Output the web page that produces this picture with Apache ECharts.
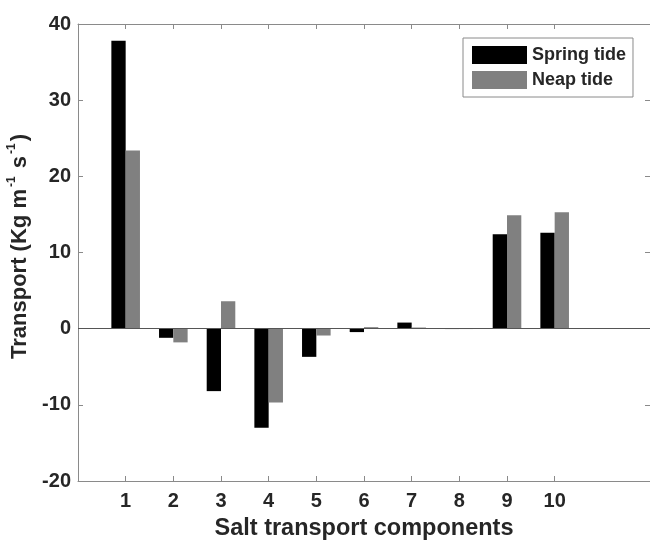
<!DOCTYPE html>
<html>
<head>
<meta charset="utf-8">
<script src="https://cdn.jsdelivr.net/npm/echarts@6/dist/echarts.min.js"></script>
<style>
  html, body { margin: 0; padding: 0; background: #fff; }
  #chart { width: 650px; height: 540px; }
</style>
</head>
<body>
<div id="chart"></div>
<script>
// ---- data ----
const components = [1, 2, 3, 4, 5, 6, 7, 8, 9, 10];
const springTide = [37.8, -1.2, -8.2, -13.0, -3.7, -0.45, 0.8, -0.05, 12.4, 12.6];
const neapTide = [23.4, -1.8, 3.6, -9.7, -0.9, 0.2, 0.15, -0.05, 14.9, 15.3];
const yTicks = [-20, -10, 0, 10, 20, 30, 40];
const seriesNames = ['Spring tide', 'Neap tide'];

const FONT = '"Liberation Sans", Arial, sans-serif';
const TXT = '#262626';
const AX = '#8a8a8a';

const chart = echarts.init(document.getElementById('chart'), null, { renderer: 'canvas' });

const option = {
  backgroundColor: '#fff',
  animation: false,
  textStyle: { fontFamily: FONT },
  grid: { left: 78, right: 0, top: 24, bottom: 59, show: false, containLabel: false, outerBoundsMode: 'none' },
  legend: {
    orient: 'vertical',
    left: 463,
    top: 38,
    data: seriesNames,
    icon: 'rect',
    itemWidth: 55,
    itemHeight: 18,
    itemGap: 7,
    padding: [8, 7, 8, 9],
    borderColor: AX,
    borderWidth: 1,
    backgroundColor: '#fff',
    textStyle: { fontFamily: FONT, fontSize: 18, fontWeight: 'bold', color: TXT }
  },
  xAxis: [
    {
      type: 'value',
      min: 0,
      max: 12,
      interval: 1,
      position: 'bottom',
      name: 'Salt transport components',
      nameLocation: 'middle',
      nameGap: 36,
      nameTextStyle: { fontFamily: FONT, fontSize: 23.5, fontWeight: 'bold', color: TXT },
      axisLine: { onZero: false, lineStyle: { color: AX, width: 1 } },
      axisTick: { inside: true, length: 5, lineStyle: { color: AX }, customValues: components },
      axisLabel: { customValues: components, margin: 10, fontFamily: FONT, fontSize: 20, fontWeight: 'bold', color: TXT },
      splitLine: { show: false }
    },
    {
      type: 'value',
      min: 0,
      max: 12,
      interval: 1,
      position: 'top',
      axisLine: { show: true, onZero: false, lineStyle: { color: AX, width: 1 } },
      axisTick: { inside: true, length: 5, lineStyle: { color: AX }, customValues: components },
      axisLabel: { show: false },
      splitLine: { show: false }
    }
  ],
  yAxis: [
    {
      type: 'value',
      min: -20,
      max: 40,
      interval: 10,
      position: 'left',
      name: '{m|Transport (Kg m}{s|-1}{m| s}{s|-1}{m|)}',
      nameLocation: 'middle',
      nameGap: 34,
      nameRotate: 90,
      nameTextStyle: {
        padding: [0, 0, 0, 12],
        rich: {
          m: { fontFamily: FONT, fontSize: 22, fontWeight: 'bold', color: TXT, lineHeight: 26, verticalAlign: 'bottom' },
          s: { fontFamily: FONT, fontSize: 12, fontWeight: 'bold', color: TXT, lineHeight: 26, verticalAlign: 'top', padding: [0, 2, 0, 2] }
        }
      },
      axisLine: { show: true, onZero: false, lineStyle: { color: AX, width: 1 } },
      axisTick: { inside: true, length: 5, lineStyle: { color: AX } },
      axisLabel: { margin: 7, fontFamily: FONT, fontSize: 20, fontWeight: 'bold', color: TXT, customValues: yTicks },
      splitLine: { show: false }
    },
    {
      type: 'value',
      min: -20,
      max: 40,
      interval: 10,
      position: 'right',
      axisLine: { show: true, onZero: false, lineStyle: { color: AX, width: 1 } },
      axisTick: { inside: true, length: 5, lineStyle: { color: AX } },
      axisLabel: { show: false },
      splitLine: { show: false }
    }
  ],
  series: [
    {
      name: seriesNames[0],
      type: 'bar',
      xAxisIndex: 0,
      yAxisIndex: 0,
      data: components.map((c, i) => [c, springTide[i]]),
      barWidth: '30%',
      barGap: '0%',
      itemStyle: { color: '#000000' },
      markLine: {
        silent: true,
        symbol: ['none', 'none'],
        label: { show: false },
        lineStyle: { color: '#555', width: 1, type: 'solid' },
        data: [{ yAxis: 0 }]
      }
    },
    {
      name: seriesNames[1],
      type: 'bar',
      xAxisIndex: 0,
      yAxisIndex: 0,
      data: components.map((c, i) => [c, neapTide[i]]),
      barWidth: '30%',
      barGap: '0%',
      itemStyle: { color: '#808080' }
    }
  ]
};

chart.setOption(option);
</script>
</body>
</html>
